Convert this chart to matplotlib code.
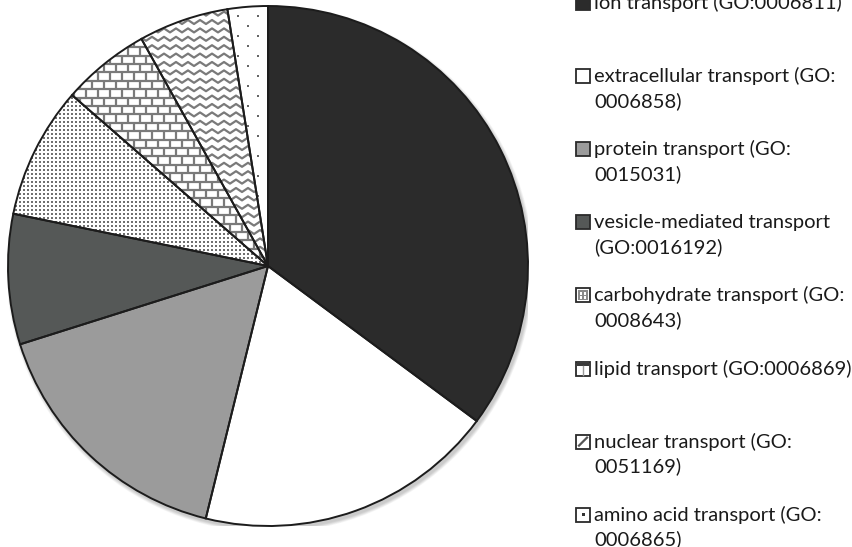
import numpy as np
import matplotlib.pyplot as plt
from matplotlib.patches import Circle, Rectangle
from matplotlib.collections import LineCollection

# ------------------------------------------------------------
# Данные
# ------------------------------------------------------------
labels = [
    'ion transport (GO:0006811)',
    'extracellular transport (GO:\n0006858)',
    'protein transport (GO:\n0015031)',
    'vesicle-mediated transport\n(GO:0016192)',
    'carbohydrate transport (GO:\n0008643)',
    'lipid transport (GO:0006869)',
    'nuclear transport (GO:\n0051169)',
    'amino acid transport (GO:\n0006865)',
]
shares = [35.2, 18.7, 16.3, 8.1, 8.2, 5.5, 5.6, 2.5]
face_colors = ['#2b2b2b', '#ffffff', '#9b9b9b', '#555857',
               '#ffffff', '#ffffff', '#ffffff', '#ffffff']
patterns = [None, None, None, None, 'dots', 'bricks', 'waves', 'sparse']

W, H = 852, 547
PX = 1 / 260.0          # один пиксель в единицах данных (радиус = 260 px)
PAT = '#7a7a7a'

plt.rcParams['font.family'] = ['Lato', 'DejaVu Sans']

fig = plt.figure(figsize=(W / 100, H / 100), dpi=100)
ax = fig.add_axes([8 / W, 21 / H, 520 / W, 520 / H])

# мягкая тень под диаграммой
for k in range(6):
    ax.add_patch(Circle((2 * PX, -3 * PX), 1 + (6 - k) * 0.6 * PX,
                        color='k', alpha=0.035, lw=0, zorder=0))

wedges, _ = ax.pie(shares, colors=face_colors, startangle=90,
                   counterclock=False, radius=1,
                   wedgeprops=dict(linewidth=0, clip_on=False))


# ------------------------------------------------------------
# Заливки-узоры, обрезанные по сектору
# ------------------------------------------------------------
def add_pattern(kind, wedge):
    arts = []
    if kind == 'dots':
        g = np.arange(-1, 1, 4 * PX)
        xx, yy = np.meshgrid(g, g)
        arts.append(ax.scatter(xx.ravel(), yy.ravel(), s=3.2, marker='s',
                               color='#707070', lw=0))
    elif kind == 'sparse':
        rows = np.arange(-1, 1, 10 * PX)
        xs, ys = [], []
        for i, y in enumerate(rows):
            cols = np.arange(-1, 1, 20 * PX) + (i % 2) * 10 * PX
            xs.extend(cols)
            ys.extend([y] * len(cols))
        arts.append(ax.scatter(xs, ys, s=3.5, marker='s', color='#666666', lw=0))
    elif kind == 'bricks':
        step, brick = 8.4 * PX, 12 * PX
        segs = []
        for i, y in enumerate(np.arange(-1, 1, step)):
            segs.append([(-1, y), (1, y)])
            for x in np.arange(-1, 1, brick) + (i % 2) * brick / 2:
                segs.append([(x, y), (x, y + step)])
        arts.append(ax.add_collection(LineCollection(segs, colors=PAT, linewidths=1.6)))
    elif kind == 'waves':
        step, wl, amp = 8.4 * PX, 12 * PX, 2 * PX
        xs = np.arange(-1, 1, wl / 2)
        segs = []
        for y in np.arange(-1, 1, step):
            ys = y + amp * np.where(np.arange(len(xs)) % 2 == 0, 1, -1)
            segs.append(np.column_stack([xs, ys]))
        arts.append(ax.add_collection(LineCollection(segs, colors=PAT, linewidths=1.6)))
    for a in arts:
        a.set_clip_path(wedge)
        a.set_zorder(2)


for w, kind in zip(wedges, patterns):
    if kind:
        add_pattern(kind, w)

# контуры секторов поверх узоров
outline, _ = ax.pie(shares, colors=['none'] * len(shares), startangle=90,
                    counterclock=False, radius=1,
                    wedgeprops=dict(edgecolor='#1c1c1c', linewidth=1.4,
                                    clip_on=False, zorder=3))
for w in outline:
    w.set_zorder(3)

ax.set_xlim(-1, 1)
ax.set_ylim(-1, 1)
ax.set_aspect('equal')
ax.axis('off')

# ------------------------------------------------------------
# Легенда (справа)
# ------------------------------------------------------------
leg = fig.add_axes([0, 0, 1, 1])
leg.set_xlim(0, W)
leg.set_ylim(H, 0)
leg.axis('off')

top, gap, line_h = 3, 73.1, 25
for i, (lab, fc, kind) in enumerate(zip(labels, face_colors, patterns)):
    y = top + i * gap
    leg.add_patch(Rectangle((576, y - 7), 14, 14, facecolor=fc,
                            edgecolor='#2a2a2a', lw=1.3, clip_on=False))
    if kind == 'dots':
        leg.add_patch(Rectangle((578, y - 5), 10, 10, facecolor='#8a8a8a', lw=0))
        for dx in (2, 6):
            for dy in (2, 6):
                leg.add_patch(Rectangle((578 + dx, y - 5 + dy), 2.2, 2.2,
                                        facecolor='white', lw=0))
    elif kind == 'bricks':
        leg.add_patch(Rectangle((577, y - 6), 12, 3, facecolor='#3a3a3a', lw=0))
        leg.plot([583, 583], [y - 3, y + 6], color='#9a9a9a', lw=1)
    elif kind == 'waves':
        leg.plot([579, 587], [y + 4, y - 4], color='#555555', lw=1.6)
    elif kind == 'sparse':
        leg.add_patch(Rectangle((581.5, y - 1.5), 3, 3, facecolor='#333333', lw=0))
    for j, part in enumerate(lab.split('\n')):
        leg.text(594, y + j * line_h, part, fontsize=14.5, color='#1a1a1a',
                 va='center', ha='left')

fig.savefig('out.png', dpi=100)
